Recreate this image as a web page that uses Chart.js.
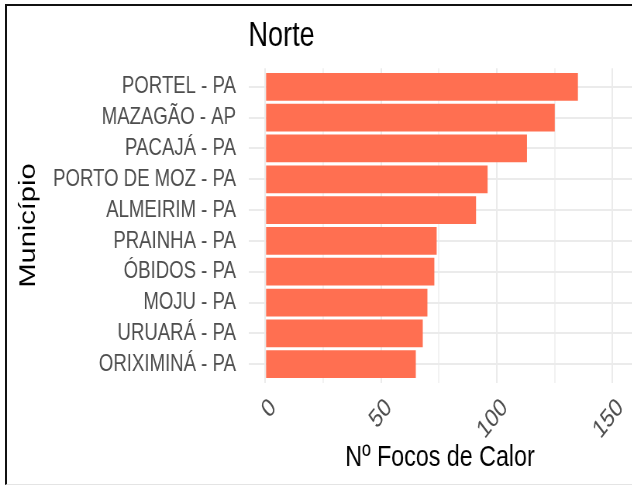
<!DOCTYPE html>
<html>
<head>
<meta charset="utf-8">
<script src="https://cdn.jsdelivr.net/npm/chart.js@4"></script>
<style>
    body { margin: 0; background: #fff; }
    #wrap { position: relative; width: 632px; height: 486px; overflow: hidden; }
    /* la imagen original está comprimida en horizontal: se reproduce con scaleX */
    #squeeze { width: 815px; height: 486px; transform: scaleX(0.775); transform-origin: 0 0; }
    #frame {
        position: absolute; left: 5px; top: 4px; width: 660px; height: 478px;
        border-left: 2px solid #111; border-top: 2px solid #111; border-bottom: 1px solid #e4e4e4;
        pointer-events: none;
    }
</style>
</head>
<body>
<div id="wrap">
    <div id="squeeze"><canvas id="chart" width="815" height="486"></canvas></div>
    <div id="frame"></div>
</div>
<script>
// Datos del gráfico
const municipios = ['PORTEL - PA', 'MAZAGÃO - AP', 'PACAJÁ - PA', 'PORTO DE MOZ - PA', 'ALMEIRIM - PA',
    'PRAINHA - PA', 'ÓBIDOS - PA', 'MOJU - PA', 'URUARÁ - PA', 'ORIXIMINÁ - PA'];
const focos = [135, 125, 113, 96, 91, 74, 73, 70, 68, 65];
const xTicks = [0, 50, 100, 150];
const xMinorTicks = [25, 75, 125];

const fontFamily = "'Liberation Sans', Arial, sans-serif";

const ctx = document.getElementById('chart').getContext('2d');
const chart = new Chart(ctx, {
    type: 'bar',
    data: {
        datasets: [{
            label: 'Nº Focos de Calor',
            data: focos.map((v, i) => ({ x: v, y: i })),
            backgroundColor: '#FF6F51',
            borderWidth: 0,
            barPercentage: 0.9,
            categoryPercentage: 1
        }]
    },
    options: {
        indexAxis: 'y',
        responsive: false,
        animation: false,
        layout: { padding: 0 },
        plugins: {
            legend: { display: false },
            tooltip: { enabled: false },
            title: {
                display: true,
                text: 'Norte',
                align: 'start',
                fullSize: false,
                color: '#000',
                font: { family: fontFamily, size: 35, weight: 'normal' },
                padding: { top: 15.1, bottom: 11.2 }
            }
        },
        scales: {
            x: {
                type: 'linear',
                min: -7.3,
                max: 158.2,
                afterBuildTicks: (scale) => {
                    scale.ticks = [...xTicks, ...xMinorTicks].sort((a, b) => a - b).map(v => ({ value: v }));
                },
                afterFit: (scale) => {
                    scale.height = 103.3;
                    scale.paddingLeft = 0;
                    scale.paddingRight = 0;
                },
                grid: {
                    drawTicks: false,
                    color: (c) => xMinorTicks.includes(c.tick.value) ? '#F2F2F2' : '#EBEBEB',
                    lineWidth: 2
                },
                border: { display: false },
                ticks: {
                    autoSkip: false,
                    minRotation: 45,
                    maxRotation: 45,
                    padding: 10,
                    labelOffset: 10,
                    color: '#4D4D4D',
                    font: { family: fontFamily, size: 26 },
                    callback: (v) => xTicks.includes(v) ? String(v) : ''
                },
                title: {
                    display: true,
                    text: 'Nº Focos de Calor',
                    color: '#000',
                    font: { family: fontFamily, size: 30 },
                    padding: { top: 0, bottom: 10.3 }
                }
            },
            y: {
                type: 'linear',
                reverse: true,
                offset: false,
                min: -0.6,
                max: 9.6,
                afterBuildTicks: (scale) => {
                    scale.ticks = municipios.map((m, i) => ({ value: i }));
                },
                afterFit: (scale) => { scale.width = 320.5; },
                grid: { drawTicks: false, offset: false, color: '#EBEBEB', lineWidth: 2 },
                border: { display: false },
                ticks: {
                    autoSkip: false,
                    padding: 16,
                    color: '#4D4D4D',
                    font: { family: fontFamily, size: 24 },
                    callback: (v) => municipios[v]
                },
                title: {
                    display: true,
                    text: 'Município',
                    color: '#000',
                    font: { family: fontFamily, size: 29 },
                    padding: { top: 20, bottom: 0 }
                }
            }
        }
    }
});
</script>
</body>
</html>
